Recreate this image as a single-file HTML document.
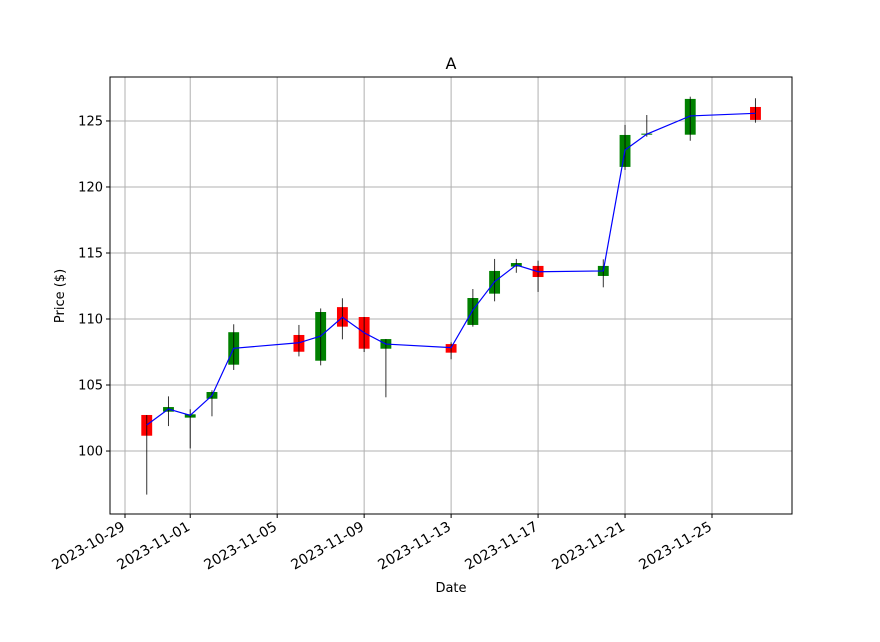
<!DOCTYPE html>
<html><head><meta charset="utf-8"><style>
body{margin:0;background:#fff}
svg{display:block;font-family:"DejaVu Sans","Liberation Sans",sans-serif}
</style></head><body>
<svg id="chart" width="880" height="642">
<rect x="0" y="0" width="880" height="642" fill="#fff"/>
<g id="grid"></g>
<g id="marks"></g>
<g id="axes"></g>
<text x="451" y="69" font-size="16" text-anchor="middle">A</text>
<text x="451" y="592" font-size="13" text-anchor="middle">Date</text>
<text x="0" y="0" font-size="13" text-anchor="middle" transform="translate(64,296) rotate(-90)">Price ($)</text>
</svg>
<script>
const dayOffsets=[1,2,3,4,5,8,9,10,11,12,15,16,17,18,19,22,23,24,26,29];
const opens=[102.73,102.98,102.53,103.96,106.54,108.79,106.84,110.9,110.15,107.75,108.1,109.55,111.92,113.97,114.02,113.26,121.52,123.96,123.96,126.06];
const closes=[101.16,103.33,102.78,104.47,109.0,107.52,110.53,109.42,107.75,108.48,107.45,111.59,113.64,114.24,113.18,114.02,123.94,124.04,126.67,125.08];
const highs=[102.73,104.14,103.16,104.6,109.6,109.55,110.8,111.57,110.15,108.48,108.23,112.27,114.55,114.55,114.42,114.52,124.7,125.45,126.84,126.72];
const lows=[96.7,101.89,100.2,102.63,106.14,107.17,106.49,108.46,107.5,104.07,106.95,109.42,111.34,113.5,112.05,112.4,121.29,123.81,123.5,124.87];
const lineVals=[101.97,103.18,102.7,104.2,107.78,108.2,108.71,110.13,108.96,108.1,107.83,110.68,112.83,114.09,113.58,113.64,122.8,124.0,125.38,125.58];
const xTickDays=[0,3,7,11,15,19,23,27];
const xTickLabels=["2023-10-29","2023-11-01","2023-11-05","2023-11-09","2023-11-13","2023-11-17","2023-11-21","2023-11-25"];
const yTicks=[100,105,110,115,120,125];

const L=110,R=792,T=77,B=514;
const xMin=-0.69,xMax=30.68,yMin=95.23,yMax=128.33;
const NS="http://www.w3.org/2000/svg";
function xs(d){return L+(d-xMin)/(xMax-xMin)*(R-L);}
function ys(v){return B-(v-yMin)/(yMax-yMin)*(B-T);}
function mk(tag,attrs,parent){const e=document.createElementNS(NS,tag);for(const k in attrs)e.setAttribute(k,attrs[k]);parent.appendChild(e);return e;}
const grid=document.getElementById('grid'),marks=document.getElementById('marks'),axes=document.getElementById('axes');

xTickDays.forEach((d,i)=>{
  const x=xs(d);
  const g=mk('line',{x1:x,x2:x,y1:T,y2:B,stroke:'#b0b0b0','stroke-width':1},grid);
  
  
  const t=mk('line',{x1:x,x2:x,y1:B,y2:B+4,stroke:'#000','stroke-width':1},axes);
  
  
  const lb=mk('text',{x:0,y:0,'font-size':14,'text-anchor':'end','dominant-baseline':'hanging',transform:`translate(${x-4},${B+7}) rotate(-30)`},axes);
  lb.textContent=xTickLabels[i];
  
  
});
yTicks.forEach(v=>{
  const y=ys(v);
  const g=mk('line',{x1:L,x2:R,y1:y,y2:y,stroke:'#b0b0b0','stroke-width':1},grid);
  
  
  const t=mk('line',{x1:L-4,x2:L,y1:y,y2:y,stroke:'#000','stroke-width':1},axes);
  
  
  const lb=mk('text',{x:L-7,y:y+4.5,'font-size':13,'text-anchor':'end'},axes);
  lb.textContent=v;
  
  
});
const frame=mk('rect',{x:L,y:T,width:R-L,height:B-T,fill:'none',stroke:'#000','stroke-width':1},axes);



const hw=(xs(0.25)-xs(0));
dayOffsets.forEach((d,i)=>{
  const x=xs(d);
  const col=closes[i]>=opens[i]?'#008000':'#ff0000';
  const top=ys(Math.max(opens[i],closes[i])),bot=ys(Math.min(opens[i],closes[i]));
  const b=mk('rect',{x:x-hw,y:top,width:2*hw,height:Math.max(bot-top,1),fill:col},marks);
  
  
  const w=mk('line',{x1:x,x2:x,y1:ys(highs[i]),y2:ys(lows[i]),stroke:'#000','stroke-width':1,'stroke-opacity':0.8},marks);
  
  
});
const pts=dayOffsets.map((d,i)=>xs(d)+','+ys(lineVals[i])).join(' ');
const pl=mk('polyline',{points:pts,fill:'none',stroke:'#0000ff','stroke-width':1.2},marks);


</script>
</body></html>
